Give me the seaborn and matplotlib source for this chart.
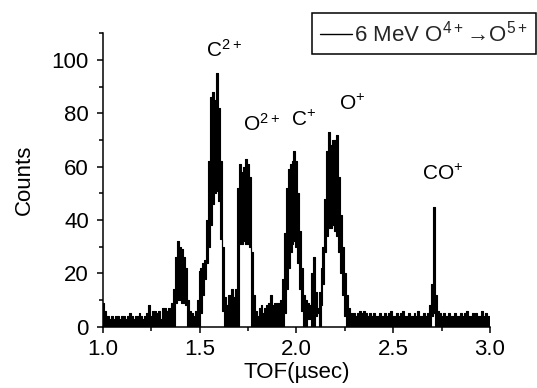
import numpy as np
import matplotlib
matplotlib.use("Agg")
import matplotlib.pyplot as plt
from matplotlib.ticker import MultipleLocator
import seaborn as sns

# TOF grid (usec), 0.01 steps
tof = np.round(np.arange(1.0, 3.0001, 0.01), 2)

# upper envelope of the counts
counts_upper = [
    9, 6, 4, 4, 3, 4, 3, 4, 4, 3,
    4, 4, 3, 4, 5, 4, 3, 4, 4, 5,
    4, 3, 4, 5, 8, 4, 6, 6, 5, 6,
    3, 7, 7, 6, 7, 7, 9, 14, 26, 32,
    30, 29, 26, 22, 10, 6, 5, 4, 6, 10,
    21, 22, 24, 25, 40, 62, 86, 88, 85, 95,
    82, 62, 30, 11, 8, 12, 10, 14, 11, 14,
    52, 61, 58, 60, 63, 61, 56, 28, 12, 6,
    4, 7, 8, 5, 7, 8, 9, 12, 8, 9,
    9, 9, 10, 18, 35, 52, 59, 61, 62, 66,
    62, 50, 36, 22, 12, 10, 9, 8, 20, 26,
    13, 7, 13, 22, 30, 48, 66, 73, 68, 70,
    70, 72, 56, 42, 30, 20, 12, 7, 5, 4,
    5, 4, 5, 6, 5, 6, 5, 4, 5, 4,
    5, 4, 4, 5, 4, 4, 5, 4, 5, 6,
    4, 4, 5, 4, 5, 6, 4, 4, 5, 4,
    4, 5, 4, 6, 4, 4, 5, 4, 5, 8,
    16, 45, 12, 6, 5, 4, 5, 4, 4, 5,
    4, 4, 5, 4, 4, 5, 4, 5, 6, 4,
    4, 5, 4, 5, 4, 4, 6, 4, 5, 4,
    4,
]

# lower envelope (white holes under the peaks)
counts_lower = [
    0, 0, 0, 0, 0, 0, 0, 0, 0, 0,
    0, 0, 0, 0, 0, 0, 0, 0, 0, 0,
    0, 0, 0, 0, 0, 0, 0, 0, 0, 0,
    0, 0, 0, 0, 0, 0, 0, 0, 9, 10,
    10, 9, 9, 8, 0, 0, 0, 0, 0, 0,
    0, 5, 12, 18, 24, 30, 38, 46, 50, 51,
    47, 33, 6, 0, 0, 0, 0, 0, 0, 0,
    0, 31, 31, 32, 31, 31, 30, 0, 0, 0,
    0, 0, 0, 0, 0, 0, 0, 0, 0, 0,
    0, 0, 0, 0, 5, 14, 22, 28, 31, 32,
    30, 24, 14, 6, 0, 0, 3, 3, 0, 0,
    4, 5, 0, 8, 16, 28, 34, 37, 37, 38,
    36, 34, 28, 20, 12, 4, 0, 0, 0, 0,
    0, 0, 0, 0, 0, 0, 0, 0, 0, 0,
    0, 0, 0, 0, 0, 0, 0, 0, 0, 0,
    0, 0, 0, 0, 0, 0, 0, 0, 0, 0,
    0, 0, 0, 0, 0, 0, 0, 0, 0, 0,
    4, 5, 0, 0, 0, 0, 0, 0, 0, 0,
    0, 0, 0, 0, 0, 0, 0, 0, 0, 0,
    0, 0, 0, 0, 0, 0, 0, 0, 0, 0,
    0,
]

# peak labels
ion_labels = ["C$^{2+}$", "O$^{2+}$", "C$^{+}$", "O$^{+}$", "CO$^{+}$"]
ion_x = [1.536, 1.722, 1.973, 2.221, 2.649]
ion_y = [101.2, 73.5, 75.3, 81.3, 55.0]

legend_label = "6 MeV O$^{4+}$\u2192O$^{5+}$"

sns.set_theme(style="ticks")
plt.rcParams["font.family"] = ["Liberation Sans", "DejaVu Sans"]
plt.rcParams["mathtext.fontset"] = "custom"
plt.rcParams["mathtext.rm"] = "Liberation Sans"
plt.rcParams["mathtext.default"] = "regular"

fig = plt.figure(figsize=(5.37, 3.88), dpi=100)
ax = fig.add_axes([0.1912, 0.158, 0.7213, 0.756])

sns.lineplot(x=tof, y=counts_upper, ax=ax, color="black", linewidth=0.8,
             drawstyle="steps-mid", label=legend_label)
sns.lineplot(x=tof, y=counts_lower, ax=ax, color="black", linewidth=0.8,
             drawstyle="steps-mid")
ax.fill_between(tof, counts_lower, counts_upper, step="mid", color="black",
                linewidth=0, antialiased=False)

for lab, x, y in zip(ion_labels, ion_x, ion_y):
    ax.text(x, y, lab, fontsize=15, ha="left", va="baseline", color="black")

ax.set_xlim(1.0, 3.0)
ax.set_ylim(0, 110)
ax.xaxis.set_major_locator(MultipleLocator(0.5))
ax.xaxis.set_minor_locator(MultipleLocator(0.25))
ax.yaxis.set_major_locator(MultipleLocator(20))
ax.yaxis.set_minor_locator(MultipleLocator(10))
ax.set_xticklabels([f"{v:.1f}" for v in ax.get_xticks()])

for side in ["top", "right"]:
    ax.spines[side].set_visible(False)
for side in ["left", "bottom"]:
    ax.spines[side].set_linewidth(1.1)
    ax.spines[side].set_color("black")

ax.tick_params(which="major", length=4.5, width=1.1, color="black",
               labelsize=16, labelcolor="black")
ax.tick_params(which="minor", length=3, width=1.1, color="black")
ax.tick_params(axis="y", which="major", pad=5.5)
ax.tick_params(axis="x", which="major", pad=4)

ax.set_xlabel("TOF(\u00b5sec)", fontsize=16, color="black", labelpad=2)
ax.set_ylabel("Counts", fontsize=16, color="black", labelpad=12)

leg = ax.legend(loc="upper left", bbox_to_anchor=(312 / 537, 1 - 13 / 388),
                bbox_transform=fig.transFigure, fontsize=16, frameon=True,
                fancybox=False, edgecolor="black", framealpha=1,
                handlelength=1.45, handletextpad=0.1, borderpad=0.35,
                borderaxespad=0)
leg.get_frame().set_linewidth(1.1)
for line in leg.get_lines():
    line.set_linewidth(1.0)

fig.savefig("out.png", dpi=100)
